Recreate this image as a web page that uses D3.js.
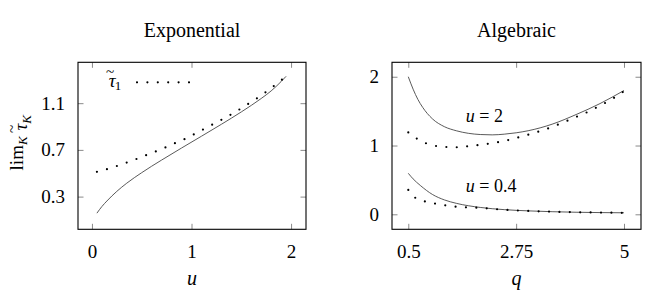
<!DOCTYPE html>
<html>
<head>
<meta charset="utf-8">
<script src="https://cdn.jsdelivr.net/npm/d3@7"></script>
<style>
  body { margin: 0; background: #fff; }
  text { font-family: "Liberation Serif", "DejaVu Serif", serif; fill: #000; }
</style>
</head>
<body>
<div id="chart"></div>
<script>
// SVG height and width
var svgWidth = 670;
var svgHeight = 296;

// Exponential panel: limit curve (solid) and tau_1 (dotted)
var expU = [0.05, 0.10, 0.15, 0.25, 0.35, 0.5, 0.7, 0.9, 1.1, 1.3, 1.5, 1.7, 1.8, 1.9, 1.95];
var expLimit = [0.158, 0.215, 0.262, 0.345, 0.415, 0.505, 0.613, 0.716, 0.817, 0.919, 1.025, 1.14, 1.205, 1.285, 1.33];
var expTauU = [0.05, 0.15, 0.25, 0.35, 0.45, 0.55, 0.65, 0.75, 0.85, 0.95, 1.05, 1.15, 1.25, 1.35, 1.45, 1.55, 1.65, 1.75, 1.85, 1.95];
var expTau1 = [0.512, 0.535, 0.562, 0.592, 0.623, 0.657, 0.69, 0.725, 0.764, 0.80, 0.845, 0.89, 0.935, 0.98, 1.03, 1.083, 1.138, 1.197, 1.262, 1.33];

// Algebraic panel, u = 2
var algQ2 = [0.5, 0.6, 0.7, 0.8, 1.0, 1.25, 1.5, 1.75, 2.0, 2.25, 2.5, 2.75, 3.0, 3.5, 4.0, 4.5, 5.0];
var algLimit2 = [2.0, 1.82, 1.67, 1.555, 1.39, 1.275, 1.215, 1.178, 1.16, 1.155, 1.165, 1.185, 1.215, 1.31, 1.45, 1.61, 1.80];
var algTauQ2 = [0.5, 0.75, 1.0, 1.25, 1.5, 1.75, 2.0, 2.25, 2.5, 2.75, 3.0, 3.25, 3.5, 3.75, 4.0, 4.25, 4.5, 4.75, 5.0];
var algTau2 = [1.19, 1.07, 1.005, 0.98, 0.975, 0.99, 1.01, 1.035, 1.065, 1.11, 1.157, 1.21, 1.27, 1.34, 1.415, 1.49, 1.58, 1.675, 1.79];

// Algebraic panel, u = 0.4
var algQ04 = [0.5, 0.6, 0.75, 1.0, 1.25, 1.5, 2.0, 2.5, 3.0, 3.5, 4.0, 4.5, 5.0];
var algLimit04 = [0.596, 0.515, 0.42, 0.29, 0.21, 0.16, 0.1, 0.068, 0.05, 0.038, 0.03, 0.025, 0.022];
var algTau04 = [0.355, 0.265, 0.21, 0.165, 0.133, 0.11, 0.094, 0.066, 0.049, 0.038, 0.03, 0.025, 0.022];

// Tick labels
var expXTicks = [0, 1, 2];
var expYTicks = [0.3, 0.7, 1.1];
var algXTicks = [0.5, 2.75, 5];
var algYTicks = [0, 1, 2];

// Shared vertical extent of both frames
var plotTop = 62.3, plotBottom = 229.3;
var serif = "'Liberation Serif', 'DejaVu Serif', serif";

var svg = d3.select("#chart")
  .append("svg")
  .attr("width", svgWidth)
  .attr("height", svgHeight);

function zip(xs, ys) {
  return xs.map((x, i) => [x, ys[i]]);
}

// Draw one framed panel and return its scales
function drawPanel(opts) {
  var x = d3.scaleLinear().domain(opts.xDomain).range([opts.left, opts.right]);
  var y = d3.scaleLinear().domain(opts.yDomain).range([plotBottom, plotTop]);

  var g = svg.append("g");

  // Mirrored inward ticks, like pgfplots
  g.append("g")
    .attr("transform", `translate(0, ${plotBottom})`)
    .call(d3.axisBottom(x).tickValues(opts.xTicks).tickSizeInner(-5.5).tickSizeOuter(0).tickPadding(15)
      .tickFormat(opts.xFormat))
    .call(a => a.select(".domain").remove());
  g.append("g")
    .attr("transform", `translate(0, ${plotTop})`)
    .call(d3.axisTop(x).tickValues(opts.xTicks).tickSizeInner(-5.5).tickSizeOuter(0).tickFormat(""))
    .call(a => a.select(".domain").remove());
  g.append("g")
    .attr("transform", `translate(${opts.left}, 0)`)
    .call(d3.axisLeft(y).tickValues(opts.yTicks).tickSizeInner(-5.5).tickSizeOuter(0).tickPadding(13)
      .tickFormat(opts.yFormat))
    .call(a => a.select(".domain").remove());
  g.append("g")
    .attr("transform", `translate(${opts.right}, 0)`)
    .call(d3.axisRight(y).tickValues(opts.yTicks).tickSizeInner(-5.5).tickSizeOuter(0).tickFormat(""))
    .call(a => a.select(".domain").remove());

  g.selectAll("g").attr("font-family", serif);
  g.selectAll(".tick line").attr("stroke", "#8a8a8a").attr("stroke-width", 1);
  g.selectAll(".tick text")
    .attr("font-size", "19px")
    .attr("font-family", serif)
    .attr("fill", "#000");

  // Frame
  g.append("rect")
    .attr("x", opts.left)
    .attr("y", plotTop)
    .attr("width", opts.right - opts.left)
    .attr("height", plotBottom - plotTop)
    .attr("fill", "none")
    .attr("stroke", "#000")
    .attr("stroke-width", 1.1);

  // Title
  svg.append("text")
    .attr("x", (opts.left + opts.right) / 2)
    .attr("y", 37)
    .attr("text-anchor", "middle")
    .attr("font-size", "20px")
    .text(opts.title);

  // x-axis label
  svg.append("text")
    .attr("x", (opts.left + opts.right) / 2)
    .attr("y", 285)
    .attr("text-anchor", "middle")
    .attr("font-size", "20px")
    .attr("font-style", "italic")
    .text(opts.xLabel);

  return { x: x, y: y, g: g };
}

function drawSolid(p, pts) {
  var line = d3.line().x(d => p.x(d[0])).y(d => p.y(d[1])).curve(d3.curveMonotoneX);
  p.g.append("path")
    .attr("d", line(pts))
    .attr("fill", "none")
    .attr("stroke", "#5a5a5a")
    .attr("stroke-width", 1);
}

function drawDotted(p, pts) {
  var line = d3.line().x(d => p.x(d[0])).y(d => p.y(d[1])).curve(d3.curveMonotoneX);
  p.g.append("path")
    .attr("d", line(pts))
    .attr("fill", "none")
    .attr("stroke", "#000")
    .attr("stroke-width", 2.2)
    .attr("stroke-linecap", "round")
    .attr("stroke-dasharray", "0 10.4");
}

// tau with a tilde drawn over it (combining marks sit badly in these fonts)
function tauTilde(parent, size, gap) {
  parent.append("tspan").attr("font-style", "italic").attr("font-size", size + "px")
    .attr("dx", gap).text("\u03C4");
  parent.append("tspan")
    .attr("font-size", (size * 0.8) + "px")
    .attr("dx", -size * 0.5)
    .attr("dy", -size * 0.55)
    .text("~");
}

// Exponential panel
var expPanel = drawPanel({
  left: 78, right: 306,
  xDomain: [-0.14, 2.15], yDomain: [0.02, 1.45],
  xTicks: expXTicks, yTicks: expYTicks,
  xFormat: d3.format("d"), yFormat: d3.format(".1f"),
  title: "Exponential", xLabel: "u"
});
drawSolid(expPanel, zip(expU, expLimit));
drawDotted(expPanel, zip(expTauU, expTau1));

// Legend for tau_1
var legText = svg.append("text")
  .attr("x", 106)
  .attr("y", 87)
  .attr("font-size", "19px");
tauTilde(legText, 19, 0);
legText.append("tspan").attr("font-size", "13px").attr("dx", 0.5).attr("dy", 19 * 0.55 + 3).text("1");
svg.append("path")
  .attr("d", d3.line()([[137, 82.3], [190, 82.3]]))
  .attr("stroke", "#000")
  .attr("stroke-width", 2.2)
  .attr("stroke-linecap", "round")
  .attr("stroke-dasharray", "0 10.4");

// y-axis label: lim_K tau~_K
var yLab = svg.append("text")
  .attr("transform", `translate(23, ${(plotTop + plotBottom) / 2 - 3}) rotate(-90)`)
  .attr("text-anchor", "middle")
  .attr("font-size", "19px");
yLab.append("tspan").text("lim");
yLab.append("tspan").attr("font-size", "13px").attr("font-style", "italic").attr("dy", 4).text("K");
yLab.append("tspan").attr("dy", -4).text("");
tauTilde(yLab, 19, 6);
yLab.append("tspan").attr("font-size", "13px").attr("font-style", "italic").attr("dx", 1).attr("dy", 19 * 0.55 + 4).text("K");

// Algebraic panel
var algPanel = drawPanel({
  left: 392, right: 641,
  xDomain: [0.16, 5.355], yDomain: [-0.218, 2.21],
  xTicks: algXTicks, yTicks: algYTicks,
  xFormat: d => String(d), yFormat: d3.format("d"),
  title: "Algebraic", xLabel: "q"
});
drawSolid(algPanel, zip(algQ2, algLimit2));
drawDotted(algPanel, zip(algTauQ2, algTau2));
drawSolid(algPanel, zip(algQ04, algLimit04));
drawDotted(algPanel, zip(algQ04, algTau04));

// Curve annotations
function annotate(p, q, v, value) {
  var t = svg.append("text")
    .attr("x", p.x(q))
    .attr("y", p.y(v))
    .attr("font-size", "18px");
  t.append("tspan").attr("font-style", "italic").text("u");
  t.append("tspan").text(" = " + value);
}
annotate(algPanel, 1.7, 1.346, "2");
annotate(algPanel, 1.7, 0.328, "0.4");
</script>
</body>
</html>
